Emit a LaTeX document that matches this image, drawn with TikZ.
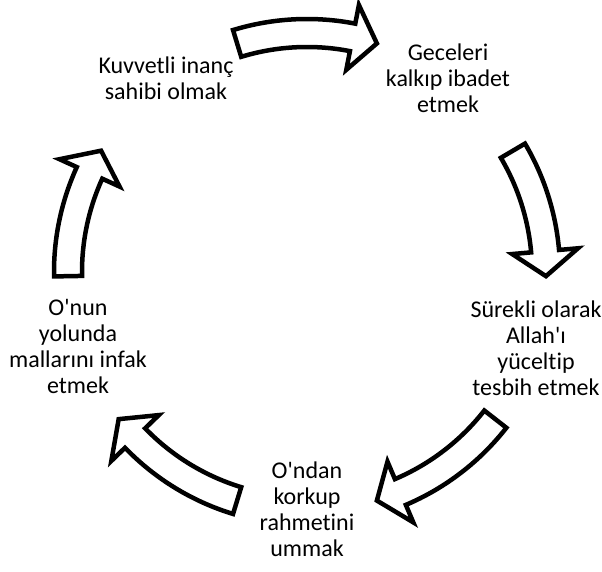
\documentclass[tikz,border=0pt]{standalone}
\usepackage{fontspec}
\setmainfont{Carlito}[Ligatures={NoCommon,TeXOff}]

\tikzset{
  blockarrow/.style={draw=black, fill=white, line width=4.5pt},
  steptext/.style={align=center, font=\fontsize{24}{26}\selectfont, inner sep=0pt}
}

% #1 tail angle, #2 tip angle
\newcommand{\cyclearrow}[2]{%
  \pgfmathsetmacro{\headbase}{#2+6}
  \draw[blockarrow] (#1:253) arc[start angle=#1, end angle=\headbase, radius=253]
    -- (\headbase:272) -- (#2:239) -- (\headbase:206) -- (\headbase:225)
    arc[start angle=\headbase, end angle=#1, radius=225] -- cycle;
}

\begin{document}
\begin{tikzpicture}[x=1pt, y=1pt]
	\useasboundingbox (0,0) rectangle (602,571);

	% steps
	\node[steptext] (inanc) at (166,493) {Kuvvetli inanç\\sahibi olmak};
	\node[steptext] (ibadet) at (448,493) {Geceleri\\kalkıp ibadet\\etmek};
	\node[steptext] (tesbih) at (536,223) {Sürekli olarak\\Allah'ı\\yüceltip\\tesbih etmek};
	\node[steptext] (rahmet) at (307,62) {O'ndan\\korkup\\rahmetini\\ummak};
	\node[steptext] (infak) at (78,225) {O'nun\\yolunda\\mallarını infak\\etmek};

	% arrows
	\begin{scope}[shift={(307,299)}]
		\cyclearrow{107}{73}
		\cyclearrow{30.5}{-1}
		\cyclearrow{-38}{-73}
		\cyclearrow{253}{218}
		\cyclearrow{181}{149.5}
	\end{scope}

\end{tikzpicture}
\end{document}
